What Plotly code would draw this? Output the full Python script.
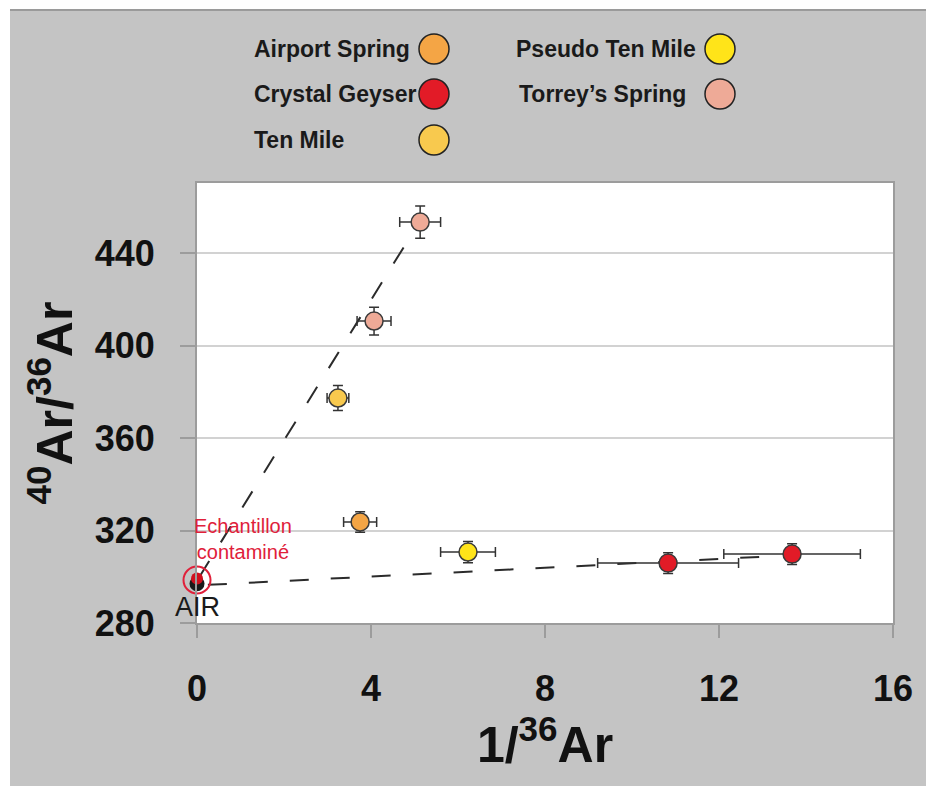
import plotly.graph_objects as go

# ---------------- data ----------------
series_names = ["Airport Spring", "Crystal Geyser", "Ten Mile", "Pseudo Ten Mile", "Torrey\u2019s Spring"]

airport_x = [3.75]
airport_y = [323.7]
airport_xerr = [0.38]
airport_yerr = [4.4]

crystal_x = [10.83, 13.68]
crystal_y = [305.9, 309.8]
crystal_xerr = [1.62, 1.57]
crystal_yerr = [4.5, 4.5]

tenmile_x = [3.24]
tenmile_y = [377.3]
tenmile_xerr = [0.25]
tenmile_yerr = [5.4]

pseudo_x = [6.23]
pseudo_y = [310.7]
pseudo_xerr = [0.63]
pseudo_yerr = [4.6]

torrey_x = [4.07, 5.13]
torrey_y = [410.6, 453.4]
torrey_xerr = [0.39, 0.47]
torrey_yerr = [6.0, 7.0]

air_x = [0.0]
air_y = [298.6]

mix_line1_x = [0.05, 4.85]
mix_line1_y = [299.8, 445.5]
mix_line2_x = [0.25, 13.35]
mix_line2_y = [296.5, 309.0]

x_ticks = [0, 4, 8, 12, 16]
y_ticks = [280, 320, 360, 400, 440]

# ---------------- styles ----------------
colors = {
    "Airport Spring": "#F4A545",
    "Crystal Geyser": "#E21B27",
    "Ten Mile": "#F8C94E",
    "Pseudo Ten Mile": "#FFE419",
    "Torrey\u2019s Spring": "#EEAA97",
}

W, H = 926, 786
L, R, T, B = 197, 893, 183, 623


def px(xp):
    return (xp - L) / (R - L)


def py(yp):
    return (B - yp) / (B - T)


fig = go.Figure()

# mixing lines
for lx, ly in [(mix_line1_x, mix_line1_y), (mix_line2_x, mix_line2_y)]:
    fig.add_trace(go.Scatter(
        x=lx, y=ly, mode="lines",
        line=dict(color="#2b2b2b", width=2, dash="19px,22px"),
        hoverinfo="skip", showlegend=False, cliponaxis=False,
    ))

# AIR point
fig.add_trace(go.Scatter(
    x=air_x, y=[air_y[0] - 1.6], mode="markers",
    marker=dict(symbol="circle", size=15, color="#1a1a1a", line=dict(width=0)),
    showlegend=False, cliponaxis=False, hoverinfo="skip",
))
fig.add_trace(go.Scatter(
    x=air_x, y=[air_y[0] + 0.6], mode="markers",
    marker=dict(symbol="circle", size=12, color="#D0101E", line=dict(width=0)),
    showlegend=False, cliponaxis=False, name="AIR",
))
fig.add_trace(go.Scatter(
    x=air_x, y=air_y, mode="markers",
    marker=dict(symbol="circle-open", size=27, color="#E0203A", line=dict(width=2, color="#E0203A")),
    showlegend=False, cliponaxis=False, hoverinfo="skip",
))

data = [
    ("Airport Spring", airport_x, airport_y, airport_xerr, airport_yerr),
    ("Crystal Geyser", crystal_x, crystal_y, crystal_xerr, crystal_yerr),
    ("Ten Mile", tenmile_x, tenmile_y, tenmile_xerr, tenmile_yerr),
    ("Pseudo Ten Mile", pseudo_x, pseudo_y, pseudo_xerr, pseudo_yerr),
    ("Torrey\u2019s Spring", torrey_x, torrey_y, torrey_xerr, torrey_yerr),
]
for name, xs, ys, xe, ye in data:
    fig.add_trace(go.Scatter(
        x=xs, y=ys, mode="markers", name=name,
        marker=dict(symbol="circle", size=18, color=colors[name],
                    line=dict(color="#3a3a3a", width=1.5)),
        error_x=dict(type="data", array=xe, visible=True, color="#333333", thickness=1.5, width=5),
        error_y=dict(type="data", array=ye, visible=True, color="#333333", thickness=1.5, width=5),
        showlegend=False, cliponaxis=False,
    ))

shapes = []
# white strips on top/left of the grey page, with darker top edge line
shapes.append(dict(type="rect", xref="paper", yref="paper", layer="below",
                   x0=px(-5), x1=px(W + 5), y0=py(-5), y1=py(9),
                   fillcolor="white", line=dict(width=0)))
shapes.append(dict(type="rect", xref="paper", yref="paper", layer="below",
                   x0=px(-5), x1=px(10), y0=py(-5), y1=py(H + 5),
                   fillcolor="white", line=dict(width=0)))
shapes.append(dict(type="line", xref="paper", yref="paper", layer="below",
                   x0=px(10), x1=px(W + 5), y0=py(10), y1=py(10),
                   line=dict(color="#9a9a9a", width=2)))

# custom legend
legend_layout = [
    ("Airport Spring", 252, 49, 434),
    ("Crystal Geyser", 252, 94, 434),
    ("Ten Mile", 252, 140, 434),
    ("Pseudo Ten Mile", 514, 49, 720),
    ("Torrey\u2019s Spring", 517, 94, 720),
]
annotations = []
for name, tx, ty, cx in legend_layout:
    annotations.append(dict(
        text=name, xref="paper", yref="paper", x=px(tx), y=py(ty),
        xanchor="left", yanchor="middle", showarrow=False,
        font=dict(family="Liberation Sans", size=23, color="#1a1a1a", weight="bold"),
    ))
    shapes.append(dict(type="circle", xref="paper", yref="paper",
                       xsizemode="pixel", ysizemode="pixel",
                       xanchor=px(cx), yanchor=py(ty),
                       x0=-15, x1=15, y0=-15, y1=15,
                       fillcolor=colors[name], line=dict(color="#222222", width=1.5)))

annotations.append(dict(
    text="AIR", xref="x", yref="y", x=0, y=287, xanchor="center", yanchor="middle",
    showarrow=False, font=dict(family="Liberation Sans", size=27, color="#1a1a1a"),
))
annotations.append(dict(
    text="Echantillon<br>contamin\u00e9", xref="x", yref="y", x=1.05, y=316.5,
    xanchor="center", yanchor="middle", showarrow=False, align="center",
    font=dict(family="Liberation Sans", size=20, color="#E0203A"),
))

fig.update_layout(
    width=W, height=H,
    margin=dict(l=L, r=W - R, t=T, b=H - B),
    paper_bgcolor="#C4C4C4",
    plot_bgcolor="white",
    showlegend=False,
    shapes=shapes,
    annotations=annotations,
    xaxis=dict(
        range=[0, 16], tickvals=x_ticks, ticktext=[str(v) for v in x_ticks],
        showgrid=False, zeroline=False,
        showline=True, mirror=True, linecolor="#9c9c9c", linewidth=2,
        ticks="outside", ticklen=13, tickwidth=1.5, tickcolor="#9c9c9c",
        tickfont=dict(family="Liberation Sans", size=36, color="#111111", weight="bold"),
        ticklabelstandoff=20,
        title=dict(text="1/<sup>36</sup>Ar", standoff=8,
                   font=dict(family="Liberation Sans", size=50, color="#111111", weight="bold")),
    ),
    yaxis=dict(
        range=[280, 470.3], tickvals=y_ticks, ticktext=[str(v) for v in y_ticks],
        showgrid=True, gridcolor="#D2D2D2", gridwidth=2, zeroline=False,
        showline=True, mirror=True, linecolor="#9c9c9c", linewidth=2,
        ticks="outside", ticklen=15, tickwidth=1.5, tickcolor="#9c9c9c",
        tickfont=dict(family="Liberation Sans", size=36, color="#111111", weight="bold"),
        ticklabelstandoff=18,
        title=dict(text="<sup>40</sup>Ar/<sup>36</sup>Ar", standoff=6,
                   font=dict(family="Liberation Sans", size=50, color="#111111", weight="bold")),
    ),
)

fig.write_html(
    "out.html",
    config={"displayModeBar": False},
    post_script="document.body.style.margin='0px';document.body.style.padding='0px';",
)
